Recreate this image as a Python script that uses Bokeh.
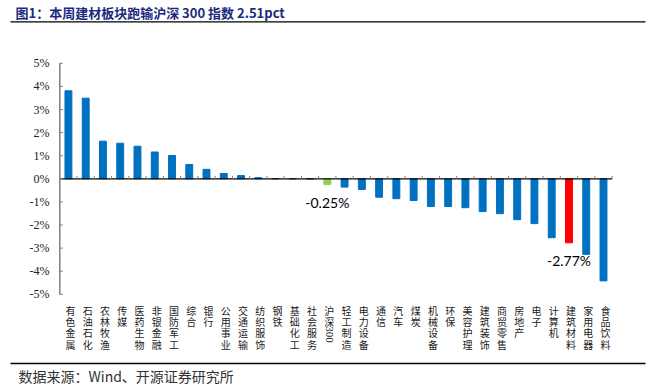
import math
from bokeh.plotting import figure
from bokeh.models import (Range1d, LinearAxis, FixedTicker, PrintfTickFormatter,
                          ColumnDataSource)
from bokeh.core.properties import value
from bokeh.embed import file_html
from bokeh.resources import INLINE

# ---------------- data ----------------
categories = ["有色金属", "石油石化", "农林牧渔", "传媒", "医药生物", "非银金融", "国防军工",
              "综合", "银行", "公用事业", "交通运输", "纺织服饰", "钢铁", "基础化工", "社会服务",
              "沪深300", "轻工制造", "电力设备", "通信", "汽车", "煤炭", "机械设备", "环保",
              "美容护理", "建筑装饰", "商贸零售", "房地产", "电子", "计算机", "建筑材料",
              "家用电器", "食品饮料"]
values = [3.81, 3.49, 1.63, 1.54, 1.41, 1.16, 1.01, 0.62, 0.41, 0.23, 0.14, 0.05, 0.01,
          0.00, -0.01, -0.25, -0.36, -0.46, -0.80, -0.86, -0.94, -1.20, -1.20, -1.25, -1.42,
          -1.51, -1.77, -1.94, -2.55, -2.77, -3.27, -4.42]
highlight_colors = {"沪深300": "#92D050", "建筑材料": "#FF0000"}
labelled = ["沪深300", "建筑材料"]
y_ticks = [-5, -4, -3, -2, -1, 0, 1, 2, 3, 4, 5]
title_text = "图1：本周建材板块跑输沪深 300 指数 2.51pct"
source_text = "数据来源：Wind、开源证券研究所"

# ---------------- layout (page pixels) ----------------
W, H = 655, 385
AXIS_X = 59.3          # page x of the value axis
PX_PER_PCT = 23.1
ZERO_PAGE = 178.3      # page y of 0%
CAT_W = 17.26
BAR_W = 0.40
LABEL_TOP = 302
CHAR_STEP = 11.4


def xdat(px):
    return (px - AXIS_X) / CAT_W


def ydat(py):
    return (ZERO_PAGE - py) / PX_PER_PCT


p = figure(width=W, height=H, output_backend="svg", toolbar_location=None,
           x_range=Range1d(xdat(0), xdat(W)), y_range=Range1d(ydat(H), ydat(0)),
           x_axis_location=None, y_axis_location=None, title=None, min_border=0)
p.outline_line_color = None
p.xgrid.visible = False
p.ygrid.visible = False
p.border_fill_color = "white"
p.background_fill_color = "white"

n = len(categories)
xs = [i + 0.5 for i in range(n)]
colors = [highlight_colors.get(c, "#0070C0") for c in categories]
src = ColumnDataSource(dict(x=xs, top=values, color=colors, cat=categories))
p.vbar(x="x", top="top", bottom=0, width=BAR_W, color="color", source=src)

# zero line with category-boundary ticks
p.segment(x0=[0], y0=[0], x1=[n], y1=[0], line_color="#000000", line_width=1.3)
tick_h = 3 / PX_PER_PCT
bx = list(range(1, n + 1))
p.segment(x0=bx, y0=[0] * n, x1=bx, y1=[tick_h] * n, line_color="#808080", line_width=1)

# value axis: Bokeh axis supplies the tick labels; its line is drawn at data x = 0
yax = LinearAxis(ticker=FixedTicker(ticks=y_ticks),
                 formatter=PrintfTickFormatter(format="%d%%"))
yax.axis_line_color = None
yax.major_tick_line_color = None
yax.minor_tick_line_color = None
yax.major_tick_in = 0
yax.major_tick_out = 0
yax.major_label_text_font = "Liberation Serif"
yax.major_label_text_font_size = "12px"
yax.major_label_text_color = "#222222"
yax.major_label_standoff = -49
p.add_layout(yax, "left")

p.segment(x0=[0], y0=[y_ticks[0]], x1=[0], y1=[y_ticks[-1]], line_color="#808080",
          line_width=1.5)
ytick_w = 3 / CAT_W
p.segment(x0=[0] * len(y_ticks), y0=y_ticks, x1=[ytick_w] * len(y_ticks), y1=y_ticks,
          line_color="#808080", line_width=1)

# category labels: one upright character per line
cx, cy, ct = [], [], []
rx, ry, rt = [], [], []
for i, c in enumerate(categories):
    chars, tail = c, ""
    if c.endswith("300"):
        chars, tail = c[:-3], c[-3:]
    for k, ch in enumerate(chars):
        cx.append(xs[i])
        cy.append(ydat(LABEL_TOP + k * CHAR_STEP))
        ct.append(ch)
    if tail:
        rx.append(xs[i])
        ry.append(ydat(LABEL_TOP + len(chars) * CHAR_STEP + 1))
        rt.append(tail)
p.text(x=cx, y=cy, text=ct, x_offset=2, text_font=value("Noto Sans CJK SC"),
       text_font_size="10px", text_color="#1a1a1a", text_align="center",
       text_baseline="top")
p.text(x=rx, y=ry, text=rt, x_offset=2, angle=-math.pi / 2,
       text_font=value("Liberation Serif"), text_font_size="11px",
       text_color="#1a1a1a", text_align="left", text_baseline="middle")

# data labels
lx = [xs[categories.index(c)] for c in labelled]
ly = [values[categories.index(c)] for c in labelled]
lt = ["%.2f%%" % v for v in ly]
p.text(x=lx, y=ly, text=lt, y_offset=9, text_font=value("Lato"),
       text_font_size="14px", text_color="#000000", text_align="center",
       text_baseline="top")

# title, rules and source
p.text(x=[xdat(15)], y=[ydat(11.5)], text=[title_text], text_font=value("Noto Sans CJK SC"),
       text_font_style="bold", text_font_size="13px", text_color="#1B2A7E",
       text_align="left", text_baseline="middle")
p.segment(x0=[xdat(10), xdat(10)], y0=[ydat(21.3), ydat(363)],
          x1=[xdat(645), xdat(645)], y1=[ydat(21.3), ydat(363)],
          line_color="#000000", line_width=1.3)
p.text(x=[xdat(18)], y=[ydat(375)], text=[source_text], text_font=value("Noto Sans CJK SC"),
       text_font_size="14px", text_color="#333333", text_align="left",
       text_baseline="middle")

open("out.html", "w").write(file_html(p, INLINE))
